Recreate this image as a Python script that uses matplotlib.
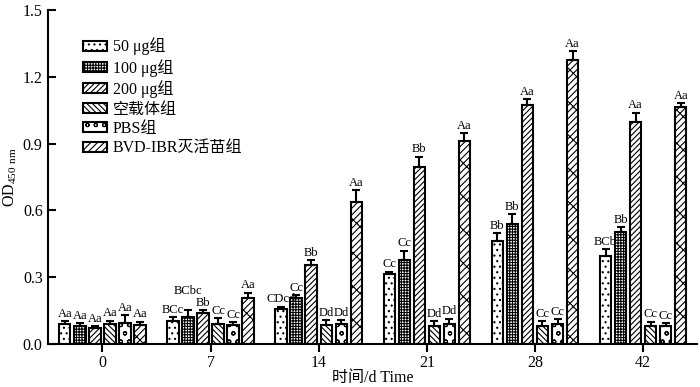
import numpy as np
import matplotlib.pyplot as plt

plt.rcParams['font.family'] = ['Liberation Serif', 'Noto Sans CJK SC']
plt.rcParams['hatch.linewidth'] = 0.8

days = ['0', '7', '14', '21', '28', '42']
groups = ['50 μg组', '100 μg组', '200 μg组', '空载体组', 'PBS组', 'BVD-IBR灭活苗组']

od_50 = [0.088, 0.103, 0.159, 0.314, 0.464, 0.397]
od_100 = [0.081, 0.123, 0.205, 0.378, 0.539, 0.503]
od_200 = [0.070, 0.138, 0.355, 0.796, 1.073, 0.998]
od_empty = [0.088, 0.091, 0.084, 0.081, 0.081, 0.081]
od_pbs = [0.093, 0.084, 0.090, 0.088, 0.088, 0.081]
od_bvd = [0.084, 0.205, 0.639, 0.913, 1.275, 1.063]

err_50 = [0.015, 0.017, 0.008, 0.011, 0.033, 0.028]
err_100 = [0.012, 0.030, 0.015, 0.042, 0.045, 0.021]
err_200 = [0.011, 0.015, 0.022, 0.045, 0.027, 0.041]
err_empty = [0.017, 0.024, 0.024, 0.022, 0.022, 0.019]
err_pbs = [0.037, 0.015, 0.018, 0.026, 0.024, 0.012]
err_bvd = [0.016, 0.025, 0.051, 0.033, 0.041, 0.018]

sig_50 = ['Aa', 'BCc', 'CDcd', 'Cc', 'Bb', 'BCb']
sig_100 = ['Aa', 'BCbc', 'Cc', 'Cc', 'Bb', 'Bb']
sig_200 = ['Aa', 'Bb', 'Bb', 'Bb', 'Aa', 'Aa']
sig_empty = ['Aa', 'Cc', 'Dd', 'Dd', 'Cc', 'Cc']
sig_pbs = ['Aa', 'Cc', 'Dd', 'Dd', 'Cc', 'Cc']
sig_bvd = ['Aa', 'Aa', 'Aa', 'Aa', 'Aa', 'Aa']

values = [od_50, od_100, od_200, od_empty, od_pbs, od_bvd]
errors = [err_50, err_100, err_200, err_empty, err_pbs, err_bvd]
sigs = [sig_50, sig_100, sig_200, sig_empty, sig_pbs, sig_bvd]
hatches = ['...', '++++++', '//////', '\\\\\\\\\\\\', 'oo', '/////\\']

fig = plt.figure(figsize=(7, 3.87), dpi=100)
ax = fig.add_axes([0.069, 0.111, 0.927, 0.863])

x = np.arange(len(days))
step = 0.139
width = 0.105
for i in range(6):
    pos = x + (i - 2.5) * step
    ax.bar(pos, values[i], width, color='white', edgecolor='black',
           linewidth=1.5, hatch=hatches[i], label=groups[i])
    ax.errorbar(pos, values[i], yerr=[np.zeros(6), errors[i]], fmt='none',
                ecolor='black', elinewidth=1.5, capsize=3, capthick=1.5)
    for j, (p, v, e, s) in enumerate(zip(pos, values[i], errors[i], sigs[i])):
        # lift the crowded label on day 7 so it clears its neighbours
        dy = 9 if (i == 1 and j == 1) else 1
        ax.annotate(s, (p, v + e), xytext=(0, dy), textcoords='offset points',
                    ha='center', va='bottom', fontsize=9)

ax.set_xlim(-0.5, 5.5)
ax.set_ylim(0, 1.5)
ax.set_xticks(x)
ax.set_xticklabels(days, fontsize=11.5)
ax.set_yticks(np.arange(0, 1.51, 0.3))
ax.set_yticklabels(['%.1f' % t for t in np.arange(0, 1.51, 0.3)], fontsize=11.5)
ax.spines['top'].set_visible(False)
ax.spines['right'].set_visible(False)
ax.spines['left'].set_linewidth(1.5)
ax.spines['bottom'].set_linewidth(1.5)
ax.tick_params(axis='x', width=1.5, length=6, direction='out', pad=2)
ax.tick_params(axis='y', width=1.5, length=6, direction='in', pad=4)

ax.set_ylabel('OD$_{\\mathregular{450\\ nm}}$', fontsize=11.5)
ax.yaxis.set_label_coords(-0.045, 0.5)
ax.set_xlabel('时间/d Time', fontsize=11.5, labelpad=-1)

ax.legend(loc='upper left', bbox_to_anchor=(0.044, 0.937), frameon=False,
          fontsize=11.5, handlelength=1.5, handleheight=0.6,
          handletextpad=0.35, labelspacing=0.22, borderaxespad=0)

fig.savefig('out.png', dpi=100)
